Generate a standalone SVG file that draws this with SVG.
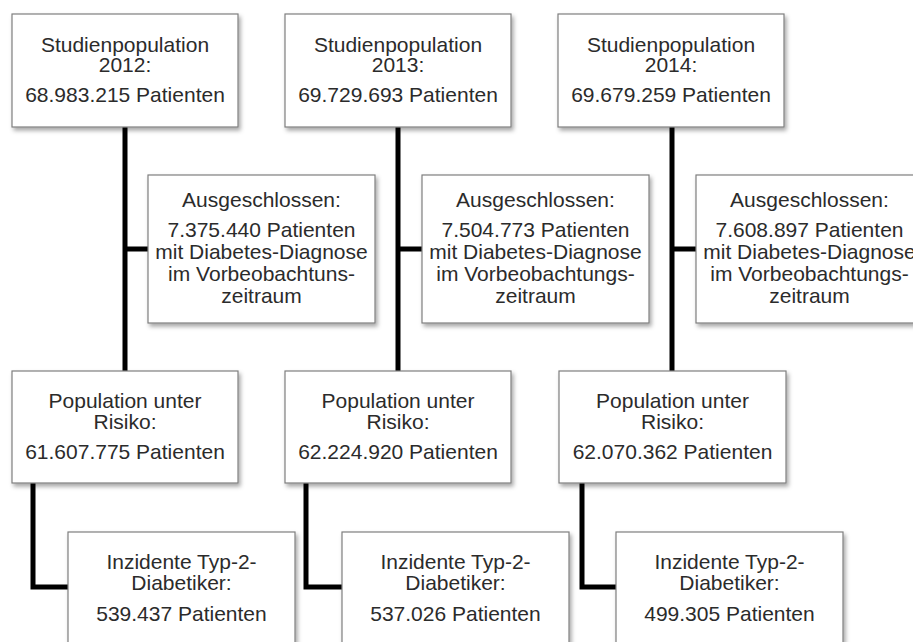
<svg xmlns="http://www.w3.org/2000/svg" width="913" height="642" viewBox="0 0 913 642">
<defs>
<filter id="sh" x="-10%" y="-10%" width="130%" height="130%">
<feDropShadow dx="2" dy="3" stdDeviation="2" flood-color="#000" flood-opacity="0.35"/>
</filter>
<style>
.box{fill:#fff;stroke:#7f7f7f;stroke-width:1.2;filter:url(#sh)}
.t{font-family:"Liberation Sans",Arial,sans-serif;font-size:21px;fill:#2b2b2b;text-anchor:middle}
.c{fill:none;stroke:#000;stroke-width:5;stroke-linejoin:miter}
</style>
</defs>
<rect width="913" height="642" fill="#fff"/>
<g id="connectors">
<path class="c" d="M125,127 V371 M125,249 H148 M33,483 V587 H68"/>
<path class="c" d="M398,127 V371 M398,249 H422 M306,483 V587 H342"/>
<path class="c" d="M672,127 V371 M672,249 H696 M582,483 V587 H616"/>
</g>
<g id="top2012"><rect class="box" x="12" y="14" width="226" height="113"/>
<text class="t" x="125" y="52">Studienpopulation</text><text class="t" x="125" y="72">2012:</text><text class="t" x="125" y="102">68.983.215 Patienten</text></g>
<g id="top2013"><rect class="box" x="285" y="14" width="226" height="113"/>
<text class="t" x="398" y="52">Studienpopulation</text><text class="t" x="398" y="72">2013:</text><text class="t" x="398" y="102">69.729.693 Patienten</text></g>
<g id="top2014"><rect class="box" x="558" y="14" width="226" height="113"/>
<text class="t" x="671" y="52">Studienpopulation</text><text class="t" x="671" y="72">2014:</text><text class="t" x="671" y="102">69.679.259 Patienten</text></g>
<g id="ex2012"><rect class="box" x="148" y="175" width="227" height="148"/>
<text class="t" x="261.5" y="207">Ausgeschlossen:</text><text class="t" x="261.5" y="237">7.375.440 Patienten</text><text class="t" x="261.5" y="259">mit Diabetes-Diagnose</text><text class="t" x="261.5" y="281">im Vorbeobachtuns-</text><text class="t" x="261.5" y="303">zeitraum</text></g>
<g id="ex2013"><rect class="box" x="422" y="175" width="227" height="148"/>
<text class="t" x="535.5" y="207">Ausgeschlossen:</text><text class="t" x="535.5" y="237">7.504.773 Patienten</text><text class="t" x="535.5" y="259">mit Diabetes-Diagnose</text><text class="t" x="535.5" y="281">im Vorbeobachtungs-</text><text class="t" x="535.5" y="303">zeitraum</text></g>
<g id="ex2014"><rect class="box" x="696" y="175" width="227" height="148"/>
<text class="t" x="809.5" y="207">Ausgeschlossen:</text><text class="t" x="809.5" y="237">7.608.897 Patienten</text><text class="t" x="809.5" y="259">mit Diabetes-Diagnose</text><text class="t" x="809.5" y="281">im Vorbeobachtungs-</text><text class="t" x="809.5" y="303">zeitraum</text></g>
<g id="pop2012"><rect class="box" x="12" y="371" width="226" height="112"/>
<text class="t" x="125" y="408">Population unter</text><text class="t" x="125" y="429">Risiko:</text><text class="t" x="125" y="459">61.607.775 Patienten</text></g>
<g id="pop2013"><rect class="box" x="285" y="371" width="226" height="112"/>
<text class="t" x="398" y="408">Population unter</text><text class="t" x="398" y="429">Risiko:</text><text class="t" x="398" y="459">62.224.920 Patienten</text></g>
<g id="pop2014"><rect class="box" x="559" y="371" width="227" height="112"/>
<text class="t" x="672.5" y="408">Population unter</text><text class="t" x="672.5" y="429">Risiko:</text><text class="t" x="672.5" y="459">62.070.362 Patienten</text></g>
<g id="inc2012"><rect class="box" x="68" y="532" width="227" height="130"/>
<text class="t" x="181.5" y="569">Inzidente Typ-2-</text><text class="t" x="181.5" y="590">Diabetiker:</text><text class="t" x="181.5" y="621">539.437 Patienten</text></g>
<g id="inc2013"><rect class="box" x="342" y="532" width="227" height="130"/>
<text class="t" x="455.5" y="569">Inzidente Typ-2-</text><text class="t" x="455.5" y="590">Diabetiker:</text><text class="t" x="455.5" y="621">537.026 Patienten</text></g>
<g id="inc2014"><rect class="box" x="616" y="532" width="227" height="130"/>
<text class="t" x="729.5" y="569">Inzidente Typ-2-</text><text class="t" x="729.5" y="590">Diabetiker:</text><text class="t" x="729.5" y="621">499.305 Patienten</text></g>
</svg>
